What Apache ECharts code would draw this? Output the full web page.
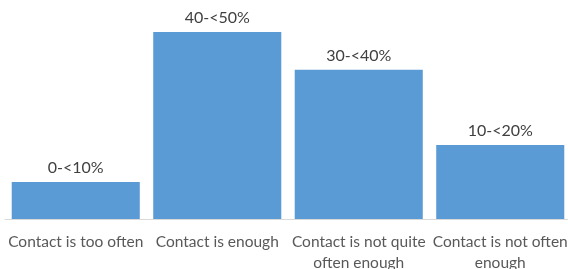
<!DOCTYPE html>
<html>
<head>
<meta charset="utf-8">
<script src="https://cdn.jsdelivr.net/npm/echarts@6/dist/echarts.min.js"></script>
<style>
  html, body { margin: 0; padding: 0; background: #fff; }
  #chart { width: 568px; height: 269px; }
</style>
</head>
<body>
<div id="chart"></div>
<script>
// categories and values
var categories = ['Contact is too often', 'Contact is enough', 'Contact is not quite\noften enough', 'Contact is not often\nenough'];
var values = [8.9, 45, 35.9, 17.8];
var rangeLabels = ['0-<10%', '40-<50%', '30-<40%', '10-<20%'];

var chart = echarts.init(document.getElementById('chart'));
chart.setOption({
  animation: false,
  grid: { left: 5, right: -3, top: 0, bottom: 50, outerBoundsMode: 'none', containLabel: false },
  xAxis: {
    type: 'category',
    data: categories,
    axisLine: { lineStyle: { color: '#d9d9d9', width: 1 } },
    axisTick: { show: false },
    axisLabel: {
      interval: 0,
      margin: 12,
      color: '#595959',
      fontFamily: 'Lato',
      fontSize: 15.5,
      lineHeight: 21
    }
  },
  yAxis: {
    type: 'value',
    min: 0,
    max: 52.7,
    show: false,
    splitLine: { show: false }
  },
  series: [{
    type: 'bar',
    data: values,
    barCategoryGap: '9.5%',
    itemStyle: { color: '#5b9bd5' },
    label: {
      show: true,
      position: 'top',
      distance: 6,
      color: '#404040',
      fontFamily: 'Lato',
      fontSize: 16,
      formatter: function (p) { return rangeLabels[p.dataIndex]; }
    }
  }]
});
</script>
</body>
</html>
